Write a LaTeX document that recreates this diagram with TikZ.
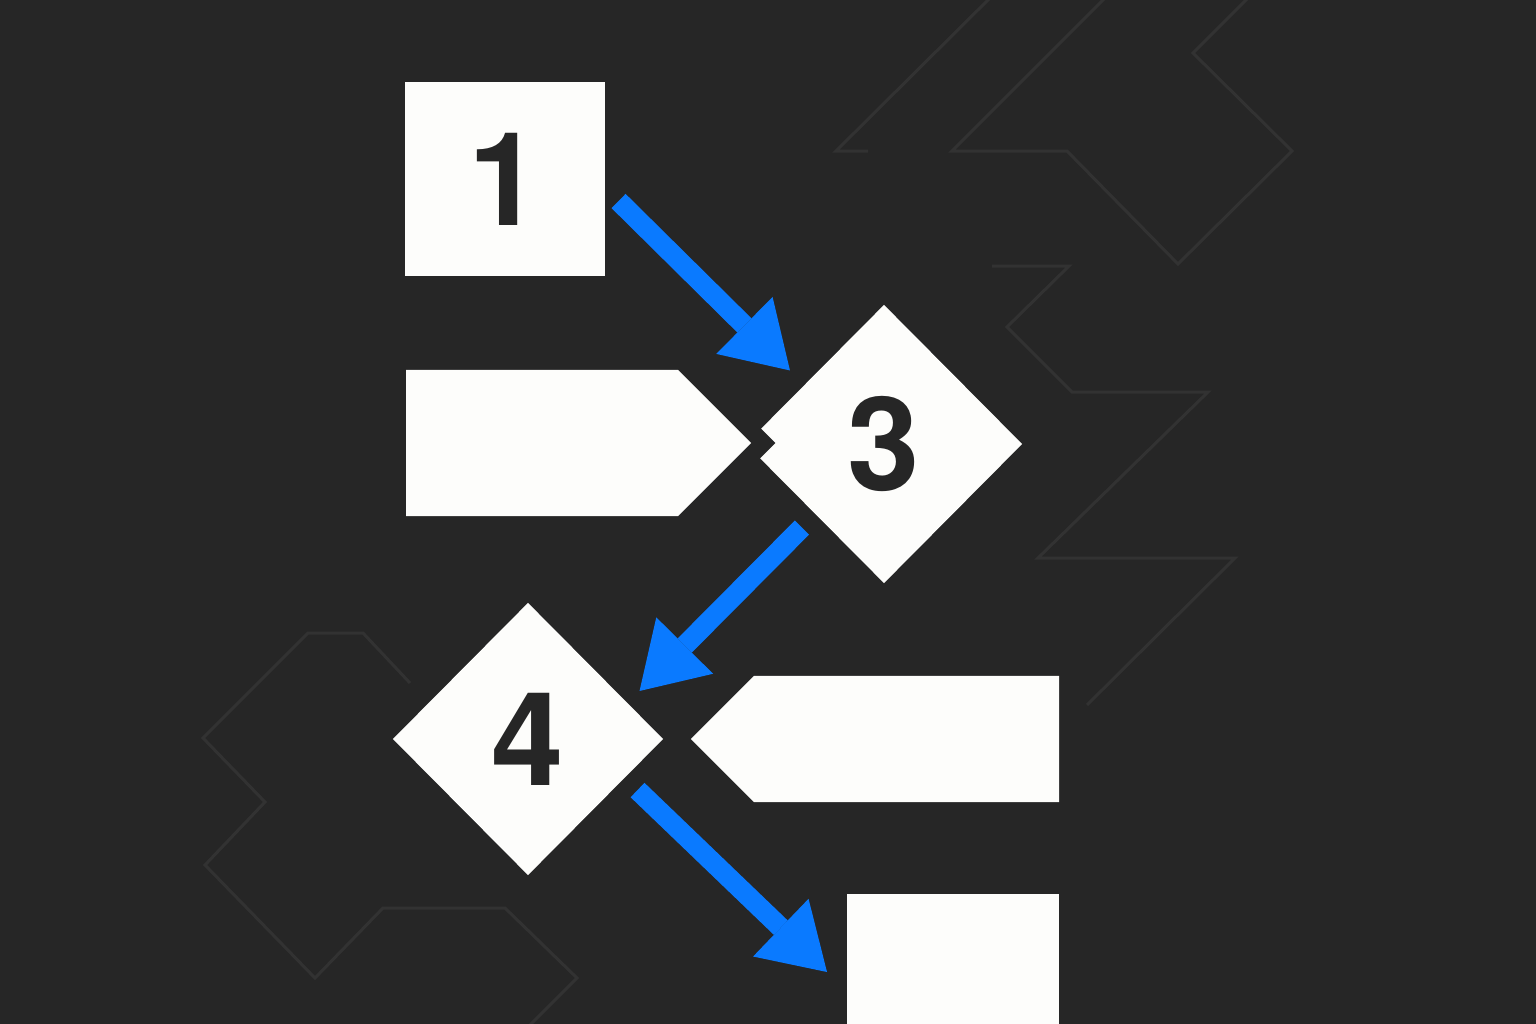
\documentclass[tikz,border=0pt]{standalone}
\usepackage{fontspec}
\setmainfont{TeX Gyre Heros}
\usepackage{tikz}
\usetikzlibrary{positioning,shapes.geometric,shapes.symbols,arrows.meta}
\definecolor{bgc}{HTML}{262626}
\definecolor{paper}{HTML}{FDFDFB}
\definecolor{flowblue}{HTML}{0A7AFF}
\definecolor{ghost}{HTML}{323232}

\begin{document}
\begin{tikzpicture}[x=0.01cm,y=-0.01cm,
  block/.style={rectangle, fill=paper, inner sep=0pt, outer sep=0pt, text=bgc,
    font=\bfseries\fontsize{37}{37}\selectfont},
  choice/.style={diamond, aspect=1, fill=paper, inner sep=0pt, outer sep=0pt, text=bgc,
    font=\bfseries\fontsize{37}{37}\selectfont},
  tag/.style={signal, signal from=nowhere, signal pointer angle=90, fill=paper,
    inner sep=0pt, outer sep=0pt, preaction={draw=bgc, line width=0.34cm}},
  flow/.style={draw=flowblue, line width=0.2cm,
    -{Triangle[length=0.64cm, width=0.8cm, line width=0pt, fill=flowblue]}},
  ghostline/.style={draw=ghost, line width=0.03cm}]
  \useasboundingbox (0,0) rectangle (1536,1024);
  \fill[bgc] (0,0) rectangle (1536,1024);
  \clip (0,0) rectangle (1536,1024);
  \path[ghostline]
    (1000,-12) -- (836,151) -- (868,151)
    (1115,-12) -- (952,151) -- (1067,151) -- (1178,264) -- (1292,151) -- (1193,53) -- (1258,-12)
    (992,266) -- (1069,266) -- (1007,327) -- (1072,392) -- (1208,392) -- (1038,558) -- (1235,558) -- (1087,705)
    (410,683) -- (363,633) -- (308,633) -- (203,738) -- (265,802) -- (205,865) -- (315,978)
      -- (383,908) -- (505,908) -- (577,978) -- (520,1035);
  \node (one) [block, minimum width=1.99cm, minimum height=1.94cm] at (505,179) {1};
  \node (three) [choice, minimum width=2.76cm, minimum height=2.78cm] at (884,444) {3};
  \node (tagl) [tag, signal to=east, anchor=west, minimum width=3.45cm, minimum height=1.46cm] at (406,443) {};
  \node (four) [choice, minimum width=2.7cm, minimum height=2.72cm] at (528,739) {4};
  \node (tagr) [tag, signal to=west, anchor=east, minimum width=3.68cm, minimum height=1.26cm] at (1059,739) {};
  \node (last) [block, anchor=north west, minimum width=2.12cm, minimum height=2cm] at (847,894) {};
  \draw[flow] ([shift={(14,22)}]one.east) -- ([shift={(-25,-4)}]three.north west);
  \draw[flow] ([shift={(-13,14)}]three.south west) -- ([shift={(44,20)}]four.north east);
  \draw[flow] ([shift={(42,-17)}]four.south east) -- ([shift={(-20,78)}]last.north west);
\end{tikzpicture}
\end{document}
